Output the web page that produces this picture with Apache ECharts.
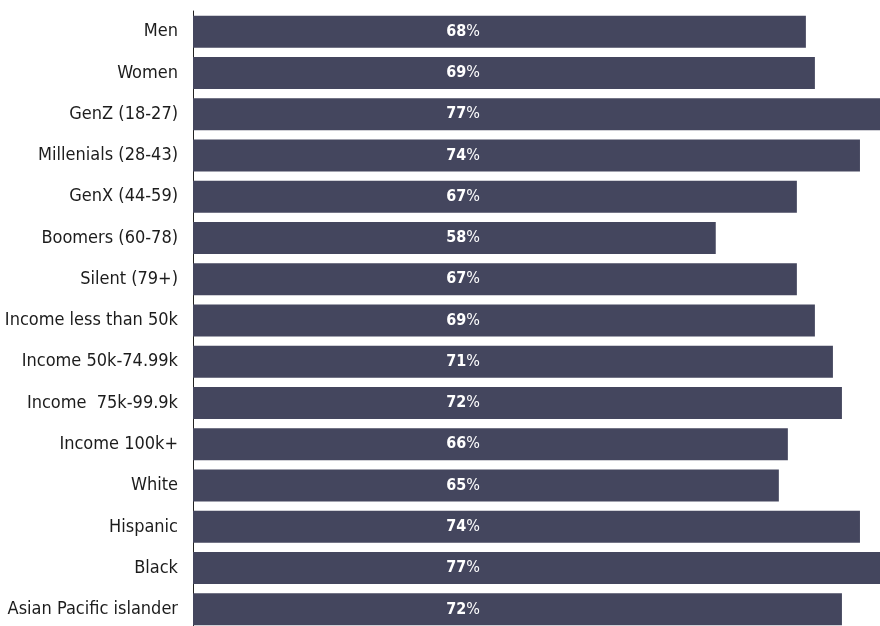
<!DOCTYPE html>
<html>
<head>
<meta charset="utf-8">
<style>
  html, body { margin: 0; padding: 0; background: #ffffff; }
  #chart { width: 880px; height: 626px; }
</style>
<script src="https://cdn.jsdelivr.net/npm/echarts@6/dist/echarts.min.js"></script>
</head>
<body>
<div id="chart"></div>
<script>
// Share of respondents per group, in percent
const groups = [
  'Men', 'Women', 'GenZ (18-27)', 'Millenials (28-43)', 'GenX (44-59)',
  'Boomers (60-78)', 'Silent (79+)', 'Income less than 50k', 'Income 50k-74.99k',
  'Income  75k-99.9k', 'Income 100k+', 'White', 'Hispanic', 'Black',
  'Asian Pacific islander'
];
const shares = [68, 69, 77, 74, 67, 58, 67, 69, 71, 72, 66, 65, 74, 77, 72];

const FONT = '"DejaVu Sans Condensed", "Liberation Sans Narrow", sans-serif';

const chart = echarts.init(document.getElementById('chart'), null, { renderer: 'canvas' });

chart.setOption({
  animation: false,
  grid: {
    left: 193, right: -7, top: 11, bottom: -4,
    containLabel: false,
    outerBoundsMode: 'none'
  },
  xAxis: {
    type: 'value',
    min: 0,
    max: 77,
    show: false
  },
  yAxis: {
    type: 'category',
    data: groups,
    inverse: true,
    axisLine: { show: true, lineStyle: { color: '#222222', width: 1 } },
    axisTick: { show: false },
    splitLine: { show: false },
    axisLabel: {
      margin: 15,
      color: '#1c1c1c',
      fontFamily: FONT,
      fontSize: 18
    }
  },
  series: [{
    type: 'bar',
    data: shares,
    barWidth: 32,
    itemStyle: { color: '#44465e' },
    label: {
      show: true,
      position: [287, '50%'],
      align: 'right',
      verticalAlign: 'middle',
      formatter: p => '{v|' + p.value + '}{u|%}',
      rich: {
        v: { color: '#ffffff', fontFamily: FONT, fontWeight: 'bold', fontSize: 16 },
        u: { color: '#ffffff', fontFamily: FONT, fontWeight: 'normal', fontSize: 16 }
      }
    }
  }]
});
</script>
</body>
</html>
